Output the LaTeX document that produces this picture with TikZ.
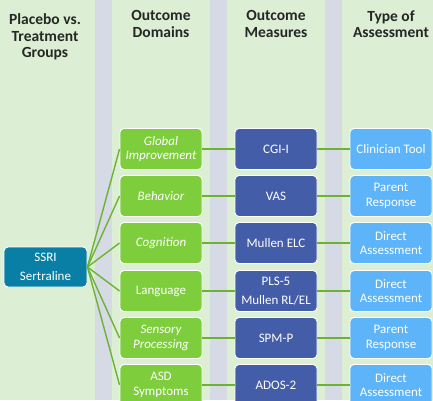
\documentclass[tikz,border=0pt]{standalone}
\usepackage{fontspec}
\setmainfont{Carlito}
\definecolor{bggreen}{HTML}{DCEFD4}
\definecolor{stripe}{HTML}{D5DAE4}
\definecolor{boxgreen}{HTML}{7DCD3D}
\definecolor{boxdark}{HTML}{445DA8}
\definecolor{boxlight}{HTML}{5DB4F8}
\definecolor{boxteal}{HTML}{0A7FA5}
\definecolor{linegreen}{HTML}{6DB333}
\definecolor{headtxt}{HTML}{262626}
\tikzset{
  base/.style={draw=white, line width=0.9pt, rounded corners=4pt, text=white,
    minimum width=82pt, minimum height=41pt, align=center, inner sep=1pt,
    font=\fontsize{13}{14.5}\selectfont},
  dom/.style={base, fill=boxgreen},
  meas/.style={base, fill=boxdark},
  typ/.style={base, fill=boxlight},
  grp/.style={base, fill=boxteal, minimum width=83pt, minimum height=40pt},
  head/.style={text=headtxt, align=center, font=\fontsize{15.5}{16.5}\selectfont\bfseries},
  conn/.style={draw=linegreen, line width=1.4pt}
}
\begin{document}
\begin{tikzpicture}[x=1pt,y=-1pt]
\useasboundingbox (0,0) rectangle (433,400);
\clip (0,0) rectangle (433,400);
\fill[bggreen] (0,0) rectangle (433,400);
\fill[stripe] (95,0) rectangle (112,400);
\fill[stripe] (210,0) rectangle (227,400);
\fill[stripe] (325,0) rectangle (342,400);

\node[head] (h1) at (45,37) {Placebo vs.\\Treatment\\Groups};
\node[head] (h2) at (161,24) {Outcome\\Domains};
\node[head] (h3) at (276,24) {Outcome\\Measures};
\node[head] (h4) at (391,24) {Type of\\Assessment};

\node[grp] (g) at (45.5,267) {SSRI\\[5pt]Sertraline};

\node[dom] (d1) at (161,149) {\itshape Global\\\itshape Improvement};
\node[dom] (d2) at (161,196) {\itshape Behavior};
\node[dom] (d3) at (161,243) {\itshape Cognition};
\node[dom] (d4) at (161,291) {Language};
\node[dom] (d5) at (161,338) {\itshape Sensory\\\itshape Processing};
\node[dom] (d6) at (161,385) {ASD\\Symptoms};

\node[meas] (m1) at (276,149) {CGI-I};
\node[meas] (m2) at (276,196) {VAS};
\node[meas] (m3) at (276,243) {Mullen ELC};
\node[meas] (m4) at (276,291) {PLS-5\\[5pt]Mullen RL/EL};
\node[meas] (m5) at (276,338) {SPM-P};
\node[meas] (m6) at (276,385) {ADOS-2};

\node[typ] (t1) at (391,149) {Clinician Tool};
\node[typ] (t2) at (391,196) {Parent\\Response};
\node[typ] (t3) at (391,243) {Direct\\Assessment};
\node[typ] (t4) at (391,291) {Direct\\Assessment};
\node[typ] (t5) at (391,338) {Parent\\Response};
\node[typ] (t6) at (391,385) {Direct\\Assessment};

\foreach \i in {1,...,6}{
  \draw[conn] (g.east) -- (d\i.west);
  \draw[conn] (d\i.east) -- (m\i.west);
  \draw[conn] (m\i.east) -- (t\i.west);
}
\end{tikzpicture}
\end{document}
